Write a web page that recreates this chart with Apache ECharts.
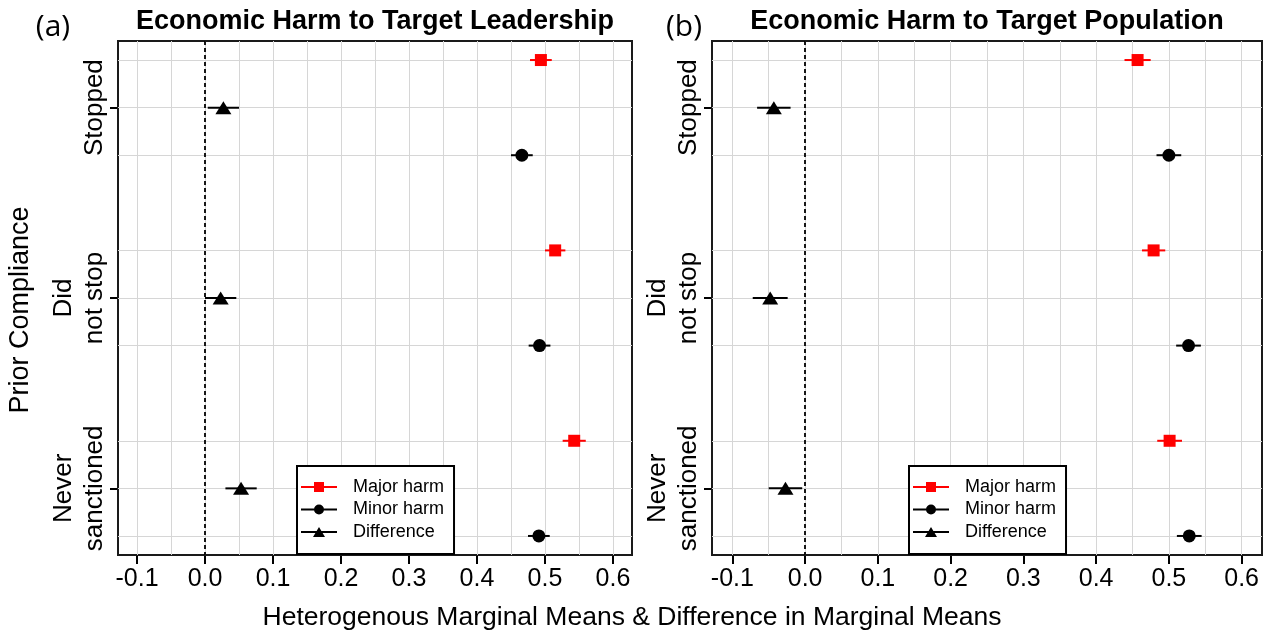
<!DOCTYPE html>
<html>
<head>
<meta charset="utf-8">
<script src="https://cdn.jsdelivr.net/npm/echarts@6/dist/echarts.min.js"></script>
<style>
html,body{margin:0;padding:0;background:#fff;}
#chart{width:1270px;height:635px;}
</style>
</head>
<body>
<div id="chart"></div>
<script>
// ---- data ----
const categories = ['Stopped', 'Did\nnot stop', 'Never\nsanctioned'];
const groupPos = [2, 6, 10];                 // y position of each category tick
const rowPos = [1, 2, 3, 5, 6, 7, 9, 10, 11]; // horizontal grid rows
const xTicks = [-0.1, 0.0, 0.1, 0.2, 0.3, 0.4, 0.5, 0.6];
const xGridLines = [-0.1, -0.05, 0.0, 0.05, 0.1, 0.15, 0.2, 0.25, 0.3, 0.35, 0.4, 0.45, 0.5, 0.55, 0.6];
const seriesNames = ['Major harm', 'Minor harm', 'Difference'];
const panelTitles = ['Economic Harm to Target Leadership', 'Economic Harm to Target Population'];
const panelTags = ['(a)', '(b)'];

// Panel (a): Leadership
const leadMajor   = [0.494, 0.515, 0.543];
const leadMajorCI = [0.016, 0.015, 0.017];
const leadMinor   = [0.466, 0.492, 0.491];
const leadMinorCI = [0.016, 0.016, 0.016];
const leadDiff    = [0.027, 0.023, 0.053];
const leadDiffCI  = [0.023, 0.023, 0.023];

// Panel (b): Population
const popMajor   = [0.457, 0.479, 0.501];
const popMajorCI = [0.018, 0.016, 0.017];
const popMinor   = [0.500, 0.527, 0.528];
const popMinorCI = [0.017, 0.017, 0.017];
const popDiff    = [-0.043, -0.048, -0.027];
const popDiffCI  = [0.023, 0.024, 0.023];

// ---- chart ----
const FONT = '"Liberation Sans", Arial, Helvetica, sans-serif';
const chart = echarts.init(document.getElementById('chart'), null, {renderer: 'canvas'});

const grids = [
  {left: 118, top: 41, width: 514, height: 514},
  {left: 712, top: 41, width: 550, height: 514}
];
const legendPos = [{left: 297, top: 466}, {left: 909, top: 466}];

const styles = [
  {off: -1, color: '#ff0000', symbol: 'rect', size: 12,
   icon: 'path://M0 4H36V6H0Z M13 0H23V10H13Z'},
  {off: 1, color: '#000000', symbol: 'circle', size: 13,
   icon: 'path://M0 4H36V6H0Z M13 5A5 5 0 1 1 23 5A5 5 0 1 1 13 5Z'},
  {off: 0, color: '#000000', symbol: 'triangle', size: [16, 13],
   icon: 'path://M0 4H36V6H0Z M12 10L18 0L24 10Z'}
];

function errRender(color) {
  return function (params, api) {
    const y = api.value(2);
    const p1 = api.coord([api.value(0), y]);
    const p2 = api.coord([api.value(1), y]);
    return {
      type: 'line',
      shape: {x1: p1[0], y1: p1[1], x2: p2[0], y2: p2[1]},
      style: {stroke: color, lineWidth: 2}
    };
  };
}

const panels = [
  [[leadMajor, leadMajorCI], [leadMinor, leadMinorCI], [leadDiff, leadDiffCI]],
  [[popMajor, popMajorCI], [popMinor, popMinorCI], [popDiff, popDiffCI]]
];

const series = [];
panels.forEach(function (panel, gi) {
  // grid lines
  series.push({
    type: 'scatter', name: 'grid' + gi, xAxisIndex: gi, yAxisIndex: gi, data: [], z: 1,
    silent: true,
    markLine: {
      silent: true, symbol: ['none', 'none'], label: {show: false}, animation: false,
      lineStyle: {color: '#d6d6d6', width: 1, type: 'solid'},
      data: xGridLines.map(v => ({xAxis: v})).concat(rowPos.map(r => ({yAxis: r})))
    }
  });
  // dashed zero line
  series.push({
    type: 'scatter', name: 'zero' + gi, xAxisIndex: gi, yAxisIndex: gi, data: [], z: 2,
    silent: true,
    markLine: {
      silent: true, symbol: ['none', 'none'], label: {show: false}, animation: false,
      lineStyle: {color: '#000', width: 1.8, type: [4, 3]},
      data: [{xAxis: 0}]
    }
  });
  panel.forEach(function (pair, si) {
    const st = styles[si];
    const vals = pair[0], ci = pair[1];
    series.push({
      type: 'custom', name: seriesNames[si] + ' CI ' + gi, xAxisIndex: gi, yAxisIndex: gi, z: 5,
      renderItem: errRender(st.color),
      encode: {x: [0, 1], y: 2},
      data: vals.map((v, k) => [v - ci[k], v + ci[k], groupPos[k] + st.off]),
      silent: true
    });
    series.push({
      type: 'scatter', name: seriesNames[si], xAxisIndex: gi, yAxisIndex: gi, z: 6,
      symbol: st.symbol, symbolSize: st.size,
      itemStyle: {color: st.color, opacity: 1},
      data: vals.map((v, k) => [v, groupPos[k] + st.off]),
      silent: true
    });
  });
});

const option = {
  backgroundColor: '#fff',
  animation: false,
  title: panelTitles.map((t, i) => ({
    text: t, left: grids[i].left + grids[i].width / 2, top: 8, textAlign: 'center', padding: 0,
    textStyle: {fontSize: 27, fontWeight: 'bold', color: '#000', fontFamily: FONT}
  })),
  grid: grids.map(g => Object.assign({show: true, borderColor: '#1a1a1a', borderWidth: 2, z: 3,
    backgroundColor: 'transparent'}, g)),
  legend: legendPos.map((p, i) => ({
    orient: 'vertical', left: p.left, top: p.top,
    padding: [11, 10, 12, 4], itemGap: 2.5, itemWidth: 36, itemHeight: 10,
    backgroundColor: '#fff', borderColor: '#000', borderWidth: 2, borderRadius: 0,
    selectedMode: false, z: 8,
    textStyle: {fontSize: 18, color: '#000', fontFamily: FONT, lineHeight: 20, padding: [0, 0, 0, 11]},
    data: seriesNames.map((n, k) => ({name: n, icon: styles[k].icon}))
  })),
  xAxis: grids.map((g, i) => ({
    type: 'value', gridIndex: i, min: -0.128, max: 0.628, position: 'bottom',
    axisLine: {show: false, onZero: false},
    splitLine: {show: false},
    axisTick: {show: true, customValues: xTicks, length: 9, lineStyle: {color: '#000', width: 2}},
    axisLabel: {customValues: xTicks, formatter: v => v.toFixed(1), fontSize: 25, color: '#000',
      fontFamily: FONT, margin: 12}
  })),
  yAxis: grids.map((g, i) => ({
    type: 'value', gridIndex: i, min: 0.6, max: 11.4, inverse: true, position: 'left',
    axisLine: {show: false, onZero: false},
    splitLine: {show: false},
    axisTick: {show: true, customValues: groupPos, length: 8, lineStyle: {color: '#000', width: 2}},
    axisLabel: {customValues: groupPos, formatter: v => categories[groupPos.indexOf(v)],
      rotate: 90, align: 'center', verticalAlign: 'bottom', margin: 8,
      fontSize: 26, lineHeight: 31, color: '#000', fontFamily: FONT}
  })),
  graphic: [
    {type: 'text', x: 53, y: 27, z: 10, style: {text: panelTags[0], font: '30px "Open Sans", sans-serif',
      fill: '#000', align: 'center', verticalAlign: 'middle'}},
    {type: 'text', x: 684, y: 27, z: 10, style: {text: panelTags[1], font: '30px "Open Sans", sans-serif',
      fill: '#000', align: 'center', verticalAlign: 'middle'}},
    {type: 'text', x: 21, y: 310, rotation: Math.PI / 2, z: 10,
      style: {text: 'Prior Compliance', font: '27px ' + FONT, fill: '#000', align: 'center', verticalAlign: 'middle'}},
    {type: 'text', x: 632, y: 618, z: 10,
      style: {text: 'Heterogenous Marginal Means & Difference in Marginal Means', font: '26.5px ' + FONT,
        fill: '#000', align: 'center', verticalAlign: 'middle'}}
  ],
  series: series
};
chart.setOption(option);
</script>
</body>
</html>
